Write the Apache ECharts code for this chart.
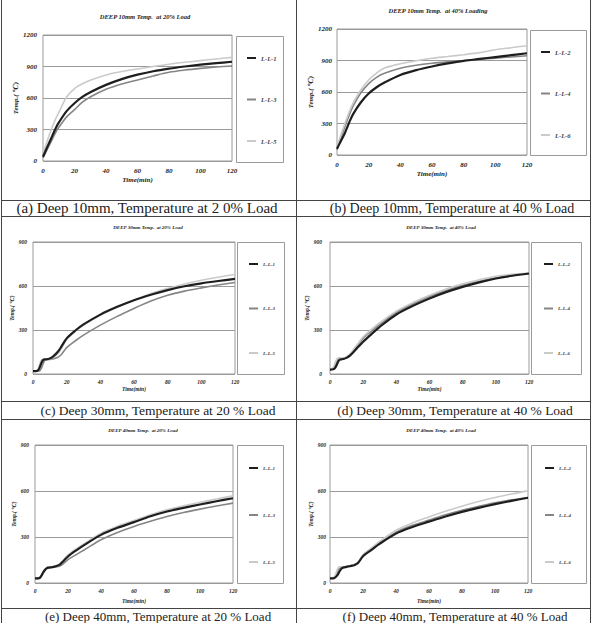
<!DOCTYPE html>
<html><head><meta charset="utf-8">
<script src="https://cdn.jsdelivr.net/npm/echarts@6/dist/echarts.min.js"></script>
<style>html,body{margin:0;padding:0;background:#fff}#c{width:596px;height:623px}</style>
</head><body><div id="c"></div><script>
// ---- data ----
const timeA = [0,2,5,8,10,15,20,25,30,40,50,60,70,80,90,100,110,120];
const timeB = [0,2,3,4,5,6,7,8,10,12,15,17,20,25,30,40,50,60,70,80,90,100,110,120];

// (a) 10mm, 20% load
const a_LL1 = [40,110,210,310,365,475,550,610,655,725,780,822,855,880,900,917,932,945];
const a_LL3 = [30,90,180,270,320,420,490,560,610,683,733,772,810,845,866,882,895,905];
const a_LL5 = [60,160,290,400,460,610,690,735,770,820,852,876,900,922,940,956,972,987];
// (b) 10mm, 40% load
const b_LL2 = [60,120,210,320,385,500,585,645,690,762,808,843,872,897,915,933,951,969];
const b_LL4 = [50,140,270,390,460,590,680,740,778,826,855,874,887,897,910,922,934,945];
const b_LL6 = [80,170,300,420,490,620,715,780,828,869,898,922,938,955,975,1003,1022,1041];
// (c) 30mm, 20% load
const c_LL1 = [20,20,25,45,75,95,100,100,105,120,155,190,243,295,338,405,458,503,540,572,598,618,634,648];
const c_LL3 = [20,20,20,22,40,70,95,100,100,103,115,135,180,225,265,333,393,447,497,537,565,587,607,624];
const c_LL5 = [20,22,30,70,95,100,100,100,100,110,140,175,235,290,333,401,455,503,548,583,614,639,660,678];
// (d) 30mm, 40% load
const d_LL2 = [30,32,40,60,85,98,100,102,110,125,160,185,220,272,322,406,465,515,558,594,625,651,670,685];
const d_LL4 = [30,35,50,80,100,105,105,105,115,130,170,200,243,292,338,420,478,528,570,605,633,655,672,685];
const d_LL6 = [30,45,75,100,110,110,108,108,118,135,180,210,254,305,350,429,487,537,580,615,643,667,680,689];
// (e) 40mm, 20% load
const e_LL1 = [30,30,35,50,70,85,95,100,103,108,120,140,173,213,249,314,360,397,435,466,490,512,533,553];
const e_LL3 = [30,30,32,45,65,82,93,100,100,103,110,125,152,185,217,282,330,369,403,434,460,482,502,521];
const e_LL5 = [30,30,35,52,72,88,97,102,104,110,125,148,184,222,258,325,370,408,445,477,503,526,548,568];
// (f) 40mm, 40% load
const f_LL2 = [30,30,35,45,60,80,95,100,105,110,118,130,175,215,255,322,365,400,434,464,490,514,536,556];
const f_LL4 = [30,32,40,60,85,100,102,104,108,112,120,135,180,222,262,331,376,410,445,475,500,523,542,558];
const f_LL6 = [30,35,45,75,100,105,105,105,108,112,120,135,183,228,270,344,392,431,468,501,531,558,581,601];

const namesOdd = ['L-L-1','L-L-3','L-L-5'];
const namesEven = ['L-L-2','L-L-4','L-L-6'];
const titles = ['DEEP 10mm Temp.  at 20% Load','DEEP 10mm Temp.  at 40% Loading','DEEP 30mm Temp.  at 20% Load','DEEP 30mm Temp.  at 40% Load','DEEP 40mm Temp.  at 20% Load','DEEP 40mm Temp.  at 40% Load'];
const captions = ['(a) Deep 10mm, Temperature at 2 0% Load','(b) Deep 10mm, Temperature at 40 % Load','(c) Deep 30mm, Temperature at 20 % Load','(d) Deep 30mm, Temperature at 40 % Load','(e) Deep 40mm, Temperature at 20 % Load','(f) Deep 40mm, Temperature at 40 % Load'];
const xName = 'Time(min)';
const yName = 'Temp.( ℃)';

// ---- layout ----
const SERIF = '"Liberation Serif","DejaVu Serif",serif';
const colors = ['#1e1e1e','#858585','#cacaca'];
const widths = [2.2,1.6,1.6];
const panels = [
 {g:[43,35,189,126], ymax:1200, yint:300, t:timeA, names:namesOdd, v:[a_LL1,a_LL3,a_LL5], lg:[247,58,41.5], box:[236,36,47,126], fs:7, xm:6, xg:15, yg:24, ym:6, title:[145,16], cap:[147,208,15]},
 {g:[337,29,190,126], ymax:1200, yint:300, t:timeA, names:namesEven, v:[b_LL2,b_LL4,b_LL6], lg:[541,52,41.5], box:[530,30,56,125], fs:7, xm:6, xg:15, yg:23, ym:5, title:[438,10], cap:[452,208,14]},
 {g:[33,242,202,132], ymax:900, yint:300, t:timeB, names:namesOdd, v:[c_LL1,c_LL3,c_LL5], lg:[249,264,44.5], box:[237,242,47,132], fs:5.5, xm:5, xg:12, yg:14, ym:6, title:[148,227], cap:[158,410,13.5]},
 {g:[330,242,199,132], ymax:900, yint:300, t:timeB, names:namesEven, v:[d_LL2,d_LL4,d_LL6], lg:[544,264,44.5], box:[531,242,50,132], fs:5.5, xm:5, xg:12, yg:16, ym:8, title:[441,227], cap:[455,410,13.5]},
 {g:[35,445,198,138], ymax:900, yint:300, t:timeB, names:namesOdd, v:[e_LL1,e_LL3,e_LL5], lg:[249,468,47], box:[237,445,46,138], fs:5.5, xm:5, xg:15, yg:16, ym:6, title:[143,430], cap:[158,616,13]},
 {g:[330,445,198,138], ymax:900, yint:300, t:timeB, names:namesEven, v:[f_LL2,f_LL4,f_LL6], lg:[545,468,47], box:[531,445,55,138], fs:5.5, xm:5, xg:15, yg:16, ym:4, title:[441,430], cap:[455,616,13]}
];

const grid=[], xAxis=[], yAxis=[], series=[], legend=[], graphic=[];
const labelFont = fs => ({fontFamily:SERIF, fontStyle:'italic', fontWeight:'bold', fontSize:fs, color:'#222'});
panels.forEach((p,i)=>{
  grid.push({left:p.g[0], top:p.g[1], width:p.g[2], height:p.g[3], show:true, borderColor:'#9a9a9a', borderWidth:1, backgroundColor:'transparent'});
  xAxis.push({type:'value', gridIndex:i, min:0, max:120, interval:20,
    axisLine:{show:false}, axisTick:{show:false}, splitLine:{show:false},
    axisLabel:Object.assign({margin:p.xm, formatter:v=>String(v)}, labelFont(p.fs)),
    name:xName, nameLocation:'middle', nameGap:p.xg, nameTextStyle:labelFont(p.fs)});
  yAxis.push({type:'value', gridIndex:i, min:0, max:p.ymax, interval:p.yint,
    axisLine:{show:false}, axisTick:{show:false},
    splitLine:{show:true, lineStyle:{color:'#9a9a9a', width:1}},
    axisLabel:Object.assign({margin:p.ym, formatter:v=>String(v)}, labelFont(p.fs)),
    name:yName, nameLocation:'middle', nameRotate:90, nameGap:p.yg, nameTextStyle:labelFont(p.fs)});
  p.names.forEach((n,k)=>{
    series.push({type:'line', name:n, xAxisIndex:i, yAxisIndex:i, smooth:0.3, symbol:'none',
      color:colors[k], lineStyle:{color:colors[k], width:widths[k]},
      z: k===0?3:2,
      data:p.t.map((x,j)=>[x,p.v[k][j]])});
  });
  legend.push({orient:'vertical', left:p.lg[0], top:p.lg[1]-5, itemGap:p.lg[2]-10, padding:0,
    itemWidth:9, itemHeight:2, icon:'rect', selectedMode:false, data:p.names,
    textStyle:Object.assign(labelFont(p.fs-0.5), {lineHeight:10, color:'#444'})});
  graphic.push({type:'rect', shape:{x:p.box[0]+0.5, y:p.box[1]+0.5, width:p.box[2], height:p.box[3]},
    style:{fill:'none', stroke:'#9a9a9a', lineWidth:1}});
  graphic.push({type:'text', x:p.title[0], y:p.title[1], style:{text:titles[i], align:'center', verticalAlign:'middle',
    font:'italic bold '+(p.fs-0.5)+'px '+SERIF, fill:'#222'}});
  graphic.push({type:'text', x:p.cap[0], y:p.cap[1], style:{text:captions[i], align:'center', verticalAlign:'middle',
    font:p.cap[2]+'px '+SERIF, fill:'#222'}});
});
// table borders
const vx=[1.5,296.5,590.5], hy=[200.5,216.5,401.5,419.5,608.5];
vx.forEach(x=>graphic.push({type:'line', shape:{x1:x,y1:0,x2:x,y2:623}, style:{stroke:'#444', lineWidth:1}}));
hy.forEach(y=>graphic.push({type:'line', shape:{x1:1,y1:y,x2:591,y2:y}, style:{stroke:'#444', lineWidth:1}}));

const chart = echarts.init(document.getElementById('c'), null, {renderer:'svg'});
chart.setOption({animation:false, backgroundColor:'#fff', grid, xAxis, yAxis, series, legend, graphic});
</script></body></html>
